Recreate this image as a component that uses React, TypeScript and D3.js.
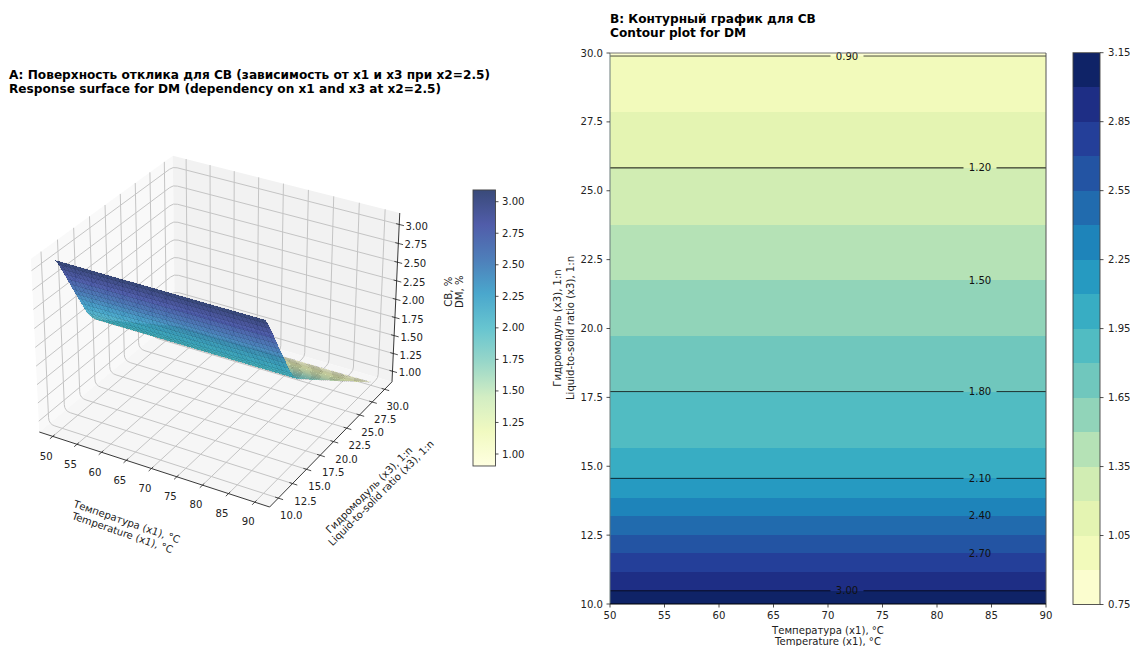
import * as d3 from "d3";

// values: band boundaries (x3) and the level at each
const x3Read = [10, 10.48, 11.17, 11.84, 12.5, 13.2, 13.86, 14.56, 15.67, 17.71, 19.73, 21.76, 23.76, 25.83, 27.86, 29.89, 30];
const dmRead = [3.09, 3.0, 2.85, 2.7, 2.55, 2.4, 2.25, 2.1, 1.95, 1.8, 1.65, 1.5, 1.35, 1.2, 1.05, 0.9, 0.895];

const fillLevels = [0.75, 0.9, 1.05, 1.2, 1.35, 1.5, 1.65, 1.8, 1.95, 2.1, 2.25, 2.4, 2.55, 2.7, 2.85, 3.0, 3.15];
const lineLevels = [0.9, 1.2, 1.5, 1.8, 2.1, 2.4, 2.7, 3.0];
const lineOpacity = [0.7, 0.95, 0, 0.75, 0.75, 0, 0, 0.75];
const labelAtRight = [false, true, true, true, true, true, true, false];

const x1Ticks = [50, 55, 60, 65, 70, 75, 80, 85, 90];
const x3Ticks = [10, 12.5, 15, 17.5, 20, 22.5, 25, 27.5, 30];
const zTicks = [1, 1.25, 1.5, 1.75, 2, 2.25, 2.5, 2.75, 3];
const cbATicks = [1, 1.25, 1.5, 1.75, 2, 2.25, 2.5, 2.75, 3];
const cbBTicks = [0.75, 1.05, 1.35, 1.65, 1.95, 2.25, 2.55, 2.85, 3.15];

const ylGnBu = ["#ffffd9", "#edf8b1", "#c7e9b4", "#7fcdbb", "#41b6c4", "#1d91c0", "#225ea8", "#253494", "#081d58"];

const font = "'DejaVu Sans', sans-serif";
const tickSize = 10.1;

const cmap = d3.scaleLinear<string>()
  .domain(ylGnBu.map((_, i) => i / 8))
  .range(ylGnBu)
  .interpolate(d3.interpolateRgb);

const dmAt = d3.scaleLinear().domain(x3Read).range(dmRead);
const x3AtLevel = (lv: number) => x3Read[dmRead.indexOf(lv)];

// ---- panel A: matplotlib style projection (elev 30, azim -60, dist 10)
const xLim: [number, number] = [47.2, 92.8];
const yLim: [number, number] = [8.5, 31.5];
const zLim: [number, number] = [0.85, 3.15];
const k = (1.8294640721620434 * 25) / 24 / Math.hypot(4, 4, 3);
const box = [4 * k, 4 * k, 3 * k];
const wx = d3.scaleLinear().domain(xLim).range([0, box[0]]);
const wy = d3.scaleLinear().domain(yLim).range([0, box[1]]);
const wz = d3.scaleLinear().domain(zLim).range([0, box[2]]);

const rad = Math.PI / 180;
const E = [Math.cos(30 * rad) * Math.cos(-60 * rad), Math.cos(30 * rad) * Math.sin(-60 * rad), Math.sin(30 * rad)];
const eye = [box[0] / 2 + 10 * E[0], box[1] / 2 + 10 * E[1], box[2] / 2 + 10 * E[2]];
const cross = (a: number[], b: number[]) => [a[1] * b[2] - a[2] * b[1], a[2] * b[0] - a[0] * b[2], a[0] * b[1] - a[1] * b[0]];
const dot = (a: number[], b: number[]) => a[0] * b[0] + a[1] * b[1] + a[2] * b[2];
const uRaw = cross([0, 0, 1], E);
const uLen = Math.hypot(uRaw[0], uRaw[1], uRaw[2]);
const U = uRaw.map((d) => d / uLen);
const V = cross(E, U);

const view = (x: number, y: number, z: number) => {
  const p = [wx(x) - eye[0], wy(y) - eye[1], wz(z) - eye[2]];
  const d = -dot(p, E);
  return { X: dot(p, U) / d, Y: dot(p, V) / d, depth: d };
};

// screen fit from the cube corners seen in the picture
const sx = d3.scaleLinear()
  .domain([view(xLim[0], yLim[0], zLim[0]).X, view(xLim[1], yLim[1], zLim[0]).X])
  .range([39.3, 392]);
const sy = d3.scaleLinear()
  .domain([view(xLim[1], yLim[0], zLim[0]).Y, view(xLim[1], yLim[1], zLim[1]).Y])
  .range([507, 213]);

const pr = (x: number, y: number, z: number): [number, number] => {
  const v = view(x, y, z);
  return [sx(v.X), sy(v.Y)];
};
const poly = (pts: [number, number][]) => pts.map((p) => p.map((d) => d.toFixed(2)).join(",")).join(" ");

const gridPath = (a: [number, number], b: [number, number], c: [number, number]) => {
  const p = d3.path();
  p.moveTo(a[0], a[1]);
  p.arcTo(b[0], b[1], c[0], c[1], 9);
  p.lineTo(c[0], c[1]);
  return p.toString();
};

// mesh cells over the read values (same density as plot_surface's default)
const meshN = 50;
const meshX = d3.scaleLinear().domain([0, meshN - 1]).range([50, 90]);
const meshY = d3.scaleLinear().domain([0, meshN - 1]).range([10, 30]);
const zColorA = d3.scaleLinear().domain([dmRead[dmRead.length - 1], dmRead[0]]).range([0, 1]);

const cells = d3.range(meshN - 1).flatMap((i) =>
  d3.range(meshN - 1).map((j) => {
    const x0 = meshX(i), x1 = meshX(i + 1), y0 = meshY(j), y1 = meshY(j + 1);
    const z0 = dmAt(y0), z1 = dmAt(y1);
    const depth = (view(x0, y0, z0).depth + view(x1, y0, z0).depth + view(x1, y1, z1).depth + view(x0, y1, z1).depth) / 4;
    return {
      depth,
      pts: poly([pr(x0, y0, z0), pr(x1, y0, z0), pr(x1, y1, z1), pr(x0, y1, z1)]),
      color: cmap(zColorA((z0 + z1) / 2)),
    };
  })
).sort((a, b) => d3.descending(a.depth, b.depth));

const cbAY = d3.scaleLinear().domain([1, 3]).range([454, 201.7]);
const gradStops = d3.range(0, 1.0001, 0.125);

// ---- panel B
const bx = d3.scaleLinear().domain([50, 90]).range([610, 1046]);
const by = d3.scaleLinear().domain([10, 30]).range([604, 53]);
const cbBY = d3.scaleLinear().domain([0.75, 3.15]).range([604.5, 52.7]);
const bandCount = fillLevels.length - 1;
const bandBounds = [30, ...fillLevels.slice(1, -1).map(x3AtLevel), 10];
const bandColor = (i: number) => cmap((i + 0.5) / bandCount);

const Panel3D = () => {
  const [xa, xb] = xLim, [ya, yb] = yLim, [za, zb] = zLim;
  return (
    <g>
      <polygon points={poly([pr(xa, ya, za), pr(xa, yb, za), pr(xa, yb, zb), pr(xa, ya, zb)])} fill="#f9f9f9" />
      <polygon points={poly([pr(xa, yb, za), pr(xb, yb, za), pr(xb, yb, zb), pr(xa, yb, zb)])} fill="#f2f2f2" />
      <polygon points={poly([pr(xa, ya, za), pr(xb, ya, za), pr(xb, yb, za), pr(xa, yb, za)])} fill="#f6f6f6" />

      <g fill="none" stroke="#c4c4c4" strokeWidth={1}>
        {x1Ticks.map((t) => <path key={t} d={gridPath(pr(t, ya, za), pr(t, yb, za), pr(t, yb, zb))} />)}
        {x3Ticks.map((t) => <path key={t} d={gridPath(pr(xb, t, za), pr(xa, t, za), pr(xa, t, zb))} />)}
        {zTicks.map((t) => <path key={t} d={gridPath(pr(xa, ya, t), pr(xa, yb, t), pr(xb, yb, t))} />)}
      </g>

      <polyline points={poly([pr(xa, ya, za), pr(xb, ya, za), pr(xb, yb, za), pr(xb, yb, zb)])} fill="none" stroke="#222" strokeWidth={0.9} />

      {x1Ticks.map((t) => {
        const a = pr(t, ya + 0.3, za), b = pr(t, ya - 0.45, za), c = pr(t, ya, za);
        return (
          <g key={t}>
            <line x1={a[0]} y1={a[1]} x2={b[0]} y2={b[1]} stroke="#222" strokeWidth={0.8} />
            <text x={c[0] - 6.5} y={c[1] + 19.7} dy="0.35em" textAnchor="middle" fontSize={tickSize} fill="#222">{t}</text>
          </g>
        );
      })}
      {x3Ticks.map((t) => {
        const a = pr(xb - 0.6, t, za), b = pr(xb + 0.9, t, za), c = pr(xb, t, za);
        return (
          <g key={t}>
            <line x1={a[0]} y1={a[1]} x2={b[0]} y2={b[1]} stroke="#222" strokeWidth={0.8} />
            <text x={c[0] + 13} y={c[1] + 17.5} dy="0.35em" textAnchor="middle" fontSize={tickSize} fill="#222">{t.toFixed(1)}</text>
          </g>
        );
      })}
      {zTicks.map((t) => {
        const a = pr(xb - 0.6, yb, t), b = pr(xb + 0.9, yb, t), c = pr(xb, yb, t);
        return (
          <g key={t}>
            <line x1={a[0]} y1={a[1]} x2={b[0]} y2={b[1]} stroke="#222" strokeWidth={0.8} />
            <text x={c[0] + 17.5} y={c[1] + 1.5} dy="0.35em" textAnchor="middle" fontSize={tickSize} fill="#222">{t.toFixed(2)}</text>
          </g>
        );
      })}

      <g shapeRendering="crispEdges">
        {cells.map((c, i) => (
          <polygon key={i} points={c.pts} fill={c.color} fillOpacity={0.8} stroke="#000" strokeWidth={0.18} strokeOpacity={0.3} />
        ))}
      </g>

      <g fontSize={tickSize} fill="#222" textAnchor="middle">
        <text transform="translate(126.7,521.7) rotate(19)" dy="0.35em">Температура (x1), °C</text>
        <text transform="translate(122.5,532.7) rotate(19)" dy="0.35em">Temperature (x1), °C</text>
        <text transform="translate(369,490) rotate(-45)" dy="0.35em">Гидромодуль (x3), 1:n</text>
        <text transform="translate(381,493) rotate(-45)" dy="0.35em">Liquid-to-solid ratio (x3), 1:n</text>
        <text transform="translate(448.3,291.7) rotate(-90)" dy="0.35em">СВ, %</text>
        <text transform="translate(459.8,291.7) rotate(-90)" dy="0.35em">DM, %</text>
      </g>

      <defs>
        <linearGradient id="cbA" x1="0" y1="1" x2="0" y2="0">
          {gradStops.map((s) => <stop key={s} offset={s} stopColor={cmap(s)} stopOpacity={0.8} />)}
        </linearGradient>
      </defs>
      <rect x={473} y={cbAY(3.093)} width={22.5} height={cbAY(0.905) - cbAY(3.093)} fill="url(#cbA)" stroke="#444" strokeWidth={0.9} />
      {cbATicks.map((t) => (
        <g key={t}>
          <line x1={495.5} x2={498.5} y1={cbAY(t)} y2={cbAY(t)} stroke="#222" strokeWidth={0.8} />
          <text x={502} y={cbAY(t)} dy="0.35em" fontSize={tickSize} fill="#222">{t.toFixed(2)}</text>
        </g>
      ))}
    </g>
  );
};

const PanelContour = () => (
  <g>
    <g shapeRendering="crispEdges">
      {d3.range(bandCount).map((i) => (
        <rect key={i} x={bx(50)} width={bx(90) - bx(50)} y={by(bandBounds[i])} height={by(bandBounds[i + 1]) - by(bandBounds[i])} fill={bandColor(i)} />
      ))}
    </g>
    {lineLevels.map((lv, i) => {
      const y = by(x3AtLevel(lv));
      const cx = labelAtRight[i] ? 980 : 847;
      return (
        <g key={lv}>
          <line x1={bx(50)} x2={cx - 16.5} y1={y} y2={y} stroke="#000" strokeWidth={1} strokeOpacity={lineOpacity[i]} />
          <line x1={cx + 16.5} x2={bx(90)} y1={y} y2={y} stroke="#000" strokeWidth={1} strokeOpacity={lineOpacity[i]} />
          <text x={cx} y={y} dy="0.35em" textAnchor="middle" fontSize={tickSize} fill="#111">{lv.toFixed(2)}</text>
        </g>
      );
    })}
    <line x1={610} x2={610} y1={53} y2={604} stroke="#6b7a7a" strokeWidth={1} />
    <line x1={610} x2={1046} y1={53} y2={53} stroke="#777" strokeWidth={1} />
    <line x1={1046} x2={1046} y1={53} y2={604} stroke="#555" strokeWidth={1} />
    <line x1={610} x2={1046} y1={604} y2={604} stroke="#000" strokeWidth={1} />

    {x1Ticks.map((t) => (
      <g key={t}>
        <line x1={bx(t)} x2={bx(t)} y1={604} y2={607.5} stroke="#222" strokeWidth={0.8} />
        <text x={bx(t)} y={615.5} dy="0.35em" textAnchor="middle" fontSize={tickSize} fill="#222">{t}</text>
      </g>
    ))}
    {x3Ticks.map((t) => (
      <g key={t}>
        <line x1={606.5} x2={610} y1={by(t)} y2={by(t)} stroke="#222" strokeWidth={0.8} />
        <text x={603} y={by(t)} dy="0.35em" textAnchor="end" fontSize={tickSize} fill="#222">{t.toFixed(1)}</text>
      </g>
    ))}
    <g fontSize={tickSize} fill="#222" textAnchor="middle">
      <text x={828} y={630} dy="0.35em">Температура (x1), °C</text>
      <text x={828} y={641} dy="0.35em">Temperature (x1), °C</text>
      <text transform="translate(557,328) rotate(-90)" dy="0.35em">Гидромодуль (x3), 1:n</text>
      <text transform="translate(570,328) rotate(-90)" dy="0.35em">Liquid-to-solid ratio (x3), 1:n</text>
    </g>

    <g shapeRendering="crispEdges">
      {d3.range(bandCount).map((i) => (
        <rect key={i} x={1073} width={27} y={cbBY(fillLevels[i + 1])} height={cbBY(fillLevels[i]) - cbBY(fillLevels[i + 1])} fill={bandColor(i)} />
      ))}
    </g>
    <rect x={1073} y={cbBY(3.15)} width={27} height={cbBY(0.75) - cbBY(3.15)} fill="none" stroke="#444" strokeWidth={0.9} />
    {cbBTicks.map((t) => (
      <g key={t}>
        <line x1={1100} x2={1103.5} y1={cbBY(t)} y2={cbBY(t)} stroke="#222" strokeWidth={0.8} />
        <text x={1108} y={cbBY(t)} dy="0.35em" fontSize={tickSize} fill="#222">{t.toFixed(2)}</text>
      </g>
    ))}
  </g>
);

export default function App() {
  return (
    <svg width={1130} height={646} viewBox="0 0 1130 646" style={{ position: "absolute", left: 0, top: 0, background: "#fff", fontFamily: font }}>
      <g fontWeight="bold" fontSize={12.15} fill="#000">
        <text x={9} y={79}>A: Поверхность отклика для СВ (зависимость от x1 и x3 при x2=2.5)</text>
        <text x={9} y={93}>Response surface for DM (dependency on x1 and x3 at x2=2.5)</text>
        <text x={610} y={23}>B: Контурный график для СВ</text>
        <text x={610} y={37}>Contour plot for DM</text>
      </g>
      <Panel3D />
      <PanelContour />
    </svg>
  );
}
